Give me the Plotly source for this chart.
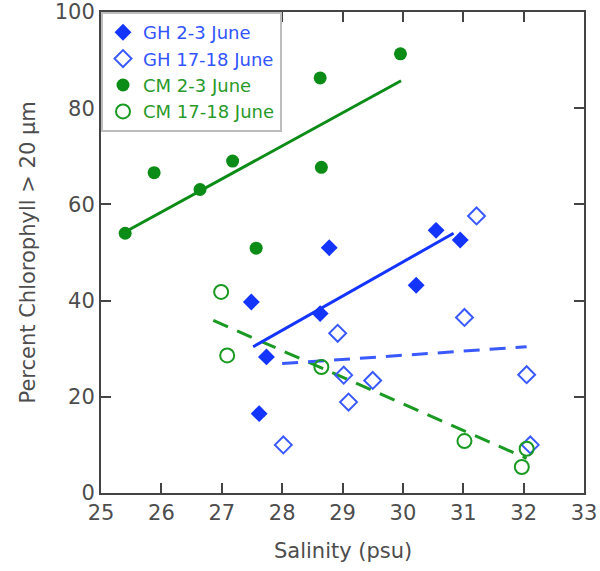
import plotly.graph_objects as go

# Salinity (psu) and percent chlorophyll > 20 um for each station / sampling period
gh_early_sal = [27.49, 27.62, 27.74, 28.63, 28.78, 30.22, 30.55, 30.95]
gh_early_chl = [39.7, 16.5, 28.3, 37.3, 51.0, 43.2, 54.6, 52.6]

gh_late_sal = [28.02, 28.92, 29.02, 29.10, 29.50, 31.02, 31.22, 32.05, 32.11]
gh_late_chl = [10.0, 33.2, 24.5, 18.9, 23.4, 36.5, 57.6, 24.6, 10.0]

cm_early_sal = [25.40, 25.88, 26.64, 27.18, 27.57, 28.63, 28.65, 29.96]
cm_early_chl = [54.0, 66.6, 63.1, 69.0, 50.9, 86.3, 67.7, 91.3]

cm_late_sal = [26.99, 27.09, 28.65, 31.02, 31.97, 32.05]
cm_late_chl = [41.8, 28.6, 26.2, 10.8, 5.4, 9.2]

# Regression line end points
gh_early_fit_sal = [27.52, 30.84]
gh_early_fit_chl = [30.4, 54.0]
gh_late_fit_sal = [28.00, 32.05]
gh_late_fit_chl = [26.9, 30.4]
cm_early_fit_sal = [25.39, 29.97]
cm_early_fit_chl = [54.2, 85.7]
cm_late_fit_sal = [26.86, 32.05]
cm_late_fit_chl = [35.9, 7.2]

series_names = ["GH 2-3 June", "GH 17-18 June", "CM 2-3 June", "CM 17-18 June"]
x_ticks = [25, 26, 27, 28, 29, 30, 31, 32, 33]
y_ticks = [0, 20, 40, 60, 80, 100]

BLUE = "#1434ff"
BLUE_OPEN = "#3a5aff"
BLUE_TXT = "#3355ff"
GREEN = "#0b8c16"
GREEN_OPEN = "#1a9a22"
GREEN_TXT = "#2a9a2a"
FONT = "DejaVu Sans"
TXT = "#4d4d4d"

fig = go.Figure()

# regression lines (drawn underneath the markers)
fig.add_trace(go.Scatter(x=cm_early_fit_sal, y=cm_early_fit_chl, mode="lines",
                         line=dict(color=GREEN, width=3), showlegend=False, hoverinfo="skip"))
fig.add_trace(go.Scatter(x=cm_late_fit_sal, y=cm_late_fit_chl, mode="lines",
                         line=dict(color=GREEN_OPEN, width=3, dash="16px,10px"),
                         showlegend=False, hoverinfo="skip"))
fig.add_trace(go.Scatter(x=gh_early_fit_sal, y=gh_early_fit_chl, mode="lines",
                         line=dict(color=BLUE, width=3), showlegend=False, hoverinfo="skip"))
fig.add_trace(go.Scatter(x=gh_late_fit_sal, y=gh_late_fit_chl, mode="lines",
                         line=dict(color=BLUE_OPEN, width=3, dash="16px,10px"),
                         showlegend=False, hoverinfo="skip"))

# observations
fig.add_trace(go.Scatter(
    x=gh_early_sal, y=gh_early_chl, mode="markers",
    name=f'<span style="color:{BLUE_TXT}">{series_names[0]}</span>',
    marker=dict(symbol="diamond", size=13, color=BLUE, line=dict(width=0))))
fig.add_trace(go.Scatter(
    x=gh_late_sal, y=gh_late_chl, mode="markers",
    name=f'<span style="color:{BLUE_TXT}">{series_names[1]}</span>',
    marker=dict(symbol="diamond-open", size=13, color=BLUE_OPEN, line=dict(width=2))))
fig.add_trace(go.Scatter(
    x=cm_early_sal, y=cm_early_chl, mode="markers",
    name=f'<span style="color:{GREEN_TXT}">{series_names[2]}</span>',
    marker=dict(symbol="circle", size=13, color=GREEN, line=dict(width=0))))
fig.add_trace(go.Scatter(
    x=cm_late_sal, y=cm_late_chl, mode="markers",
    name=f'<span style="color:{GREEN_TXT}">{series_names[3]}</span>',
    marker=dict(symbol="circle-open", size=14, color=GREEN_OPEN, line=dict(width=2))))

axis_common = dict(
    showline=True, linecolor="#444444", linewidth=2, mirror="ticks",
    ticks="inside", ticklen=10, tickwidth=2, tickcolor="#444444",
    showgrid=False, zeroline=False, automargin=False,
    tickfont=dict(family=FONT, size=21, color=TXT),
)

fig.update_layout(
    width=600, height=571,
    margin=dict(l=101, r=16, t=12, b=78),
    paper_bgcolor="white", plot_bgcolor="white",
    font=dict(family=FONT, size=21, color=TXT),
    xaxis=dict(range=[25, 33], tickvals=x_ticks, ticktext=[str(v) for v in x_ticks], **axis_common),
    yaxis=dict(range=[0, 100], tickvals=y_ticks, ticktext=[str(v) for v in y_ticks], **axis_common),
    legend=dict(x=0, y=1, xanchor="left", yanchor="top",
                bgcolor="white", bordercolor="#bdbdbd", borderwidth=2,
                font=dict(family=FONT, size=18), tracegroupgap=0),
    showlegend=True,
    annotations=[
        dict(text="Salinity (psu)", xref="paper", yref="paper", x=0.5, y=0,
             xanchor="center", yanchor="middle", yshift=-58, showarrow=False,
             font=dict(family=FONT, size=21, color=TXT)),
        dict(text="Percent Chlorophyll > 20 µm", xref="paper", yref="paper", x=0, y=0.5,
             xanchor="center", yanchor="middle", xshift=-74, textangle=-90, showarrow=False,
             font=dict(family=FONT, size=21, color=TXT)),
    ],
)

fig.write_html("out.html")
